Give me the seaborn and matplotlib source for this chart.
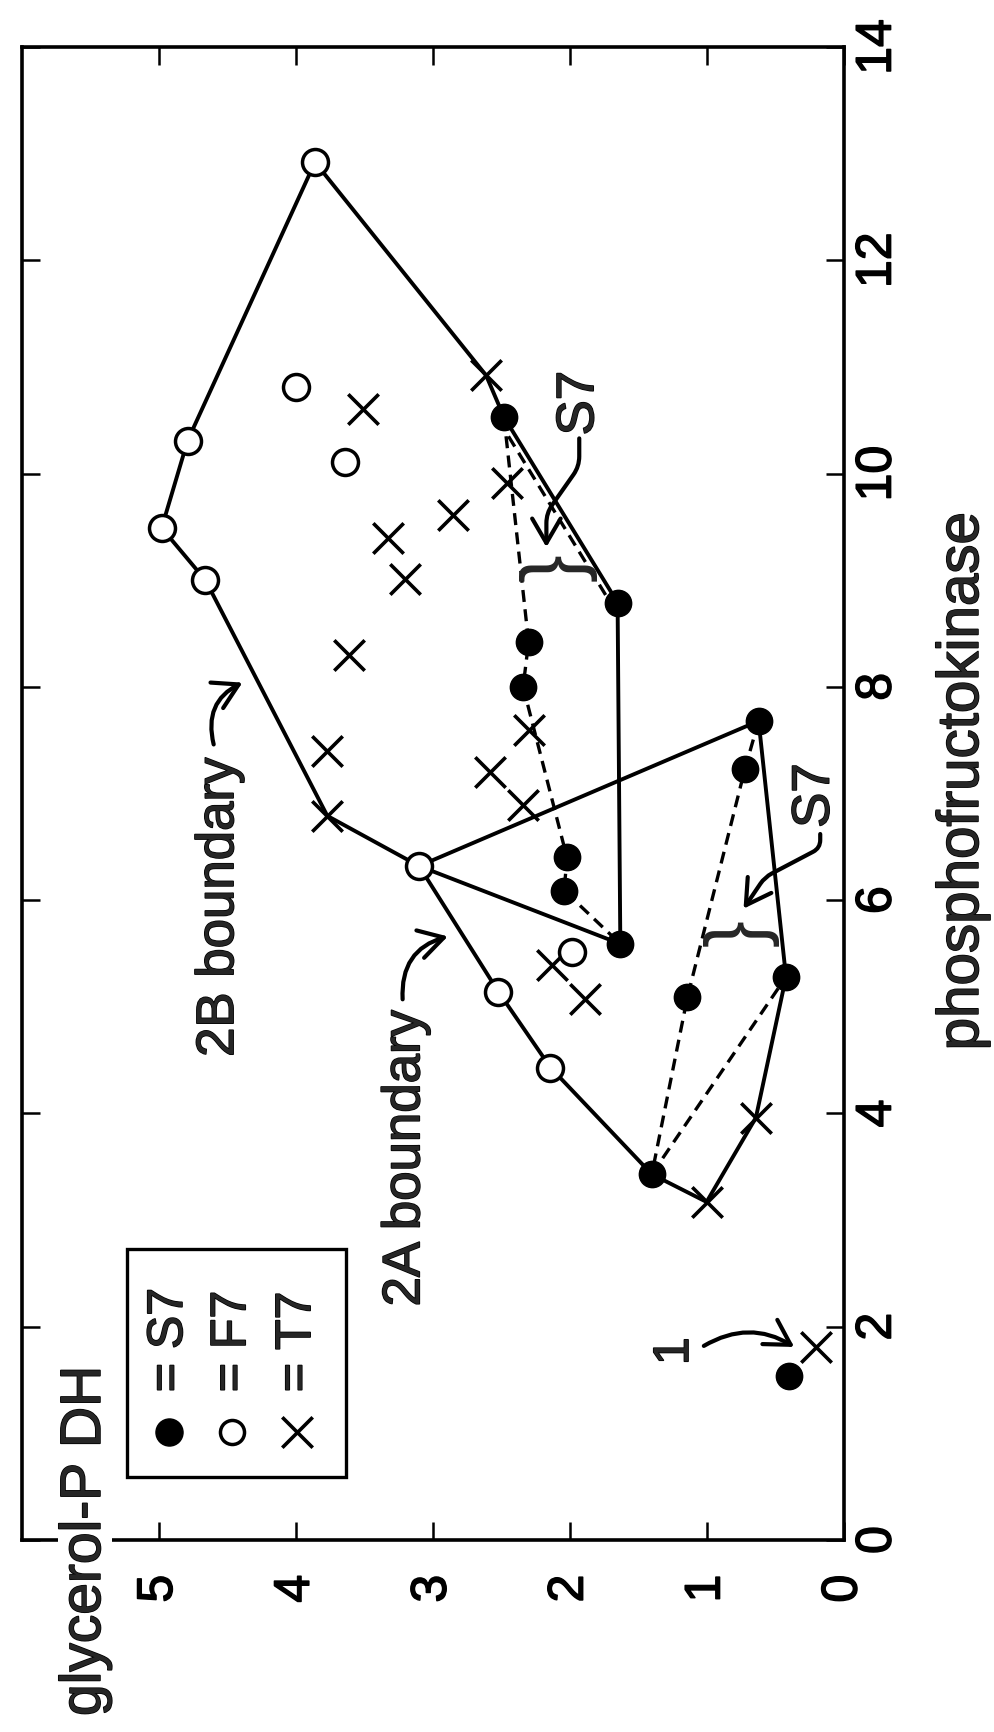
import matplotlib
matplotlib.use("Agg")
import matplotlib.pyplot as plt
import matplotlib.patheffects as pe
import numpy as np
import pandas as pd
import seaborn as sns
from matplotlib.patches import Rectangle
from matplotlib.transforms import ScaledTranslation

# Enzyme activities (glycerol-P DH vs phosphofructokinase) per fibre group
s7_gpdh = [2.48, 1.65, 2.30, 2.34, 0.62, 0.72, 2.02, 2.04, 1.63, 0.42, 1.14, 1.40, 0.40]
s7_pfk = [10.53, 8.79, 8.42, 8.00, 7.68, 7.23, 6.40, 6.09, 5.59, 5.28, 5.09, 3.43, 1.54]
f7_gpdh = [3.86, 4.98, 4.79, 4.66, 4.00, 3.64, 3.10, 1.98, 2.52, 2.14]
f7_pfk = [12.92, 9.49, 10.31, 9.00, 10.81, 10.11, 6.32, 5.51, 5.14, 4.43]
t7_gpdh = [2.61, 3.51, 2.46, 2.85, 3.33, 3.20, 3.61, 3.77, 3.77, 2.30, 2.58,
           2.34, 2.13, 1.89, 0.64, 1.00, 0.20]
t7_pfk = [10.92, 10.61, 9.91, 9.61, 9.40, 9.01, 8.30, 7.40, 6.79, 7.60, 7.20,
          6.89, 5.39, 5.07, 3.96, 3.17, 1.81]

groups = ["S7", "F7", "T7"]
gpdh_ticks = [0, 1, 2, 3, 4, 5]
pfk_ticks = [0, 2, 4, 6, 8, 10, 12, 14]

# Region outlines as (group, point index) vertex sequences
boundary_2b = [("T7", 8), ("F7", 3), ("F7", 1), ("F7", 2), ("F7", 0), ("T7", 0),
               ("S7", 0), ("S7", 1), ("S7", 8), ("F7", 6), ("T7", 8)]
boundary_2a = [("S7", 11), ("F7", 9), ("F7", 8), ("F7", 6), ("S7", 4), ("S7", 9),
               ("T7", 14), ("T7", 15), ("S7", 11)]
# S7 sub-outlines (dashed), indices into the S7 arrays
s7_dashed_2b = [[0, 2, 3, 6, 7, 8]]
s7_dashed_2b_edge = [[0, 1]]
s7_dashed_2a = [[4, 5, 10, 11], [11, 9]]

coords = {"S7": (s7_gpdh, s7_pfk), "F7": (f7_gpdh, f7_pfk), "T7": (t7_gpdh, t7_pfk)}

df = pd.concat([
    pd.DataFrame({"gpdh": coords[g][0], "pfk": coords[g][1], "group": g}) for g in groups
], ignore_index=True)

sns.set_theme(style="white")
plt.rcParams["font.family"] = ["Liberation Sans", "DejaVu Sans"]

# slightly heavier strokes on all lettering
ink = [pe.withStroke(linewidth=1.1, foreground="black")]

W, H = 994, 1733
fig = plt.figure(figsize=(W / 100, H / 100), dpi=100)
ax = fig.add_axes([22 / W, 192 / H, 821.5 / W, 1493 / H])

ax.set_xlim(6, 0)
ax.set_ylim(0, 14)


def path_xy(seq):
    xs = [coords[g][0][i] for g, i in seq]
    ys = [coords[g][1][i] for g, i in seq]
    return xs, ys


# solid region boundaries
for seq in (boundary_2b, boundary_2a):
    xs, ys = path_xy(seq)
    ax.plot(xs, ys, color="black", lw=2.8, zorder=3, solid_joinstyle="miter")

# dashed S7 sub-outlines
dash_kw = dict(color="black", lw=2.4, dashes=(3.6, 2.2), zorder=2)
for idx in s7_dashed_2b + s7_dashed_2a:
    xs, ys = path_xy([("S7", i) for i in idx])
    ax.plot(xs, ys, **dash_kw)
shift = ax.transData + ScaledTranslation(-4 / 72, -2 / 72, fig.dpi_scale_trans)
for idx in s7_dashed_2b_edge:
    xs, ys = path_xy([("S7", i) for i in idx])
    ax.plot(xs, ys, transform=shift, **dash_kw)

# points
sns.scatterplot(data=df[df.group == "T7"], x="gpdh", y="pfk", marker="x",
                color="black", s=480, linewidth=2.6, zorder=5, ax=ax, legend=False)
sns.scatterplot(data=df[df.group == "F7"], x="gpdh", y="pfk", marker="o",
                facecolor="white", edgecolor="black", s=350, linewidth=2.5,
                zorder=6, ax=ax, legend=False)
sns.scatterplot(data=df[df.group == "S7"], x="gpdh", y="pfk", marker="o",
                color="black", edgecolor="black", s=360, linewidth=1, zorder=6,
                ax=ax, legend=False)

# axes styling
for sp in ax.spines.values():
    sp.set_linewidth(2.6)
    sp.set_color("black")
ax.set_xticks(gpdh_ticks)
ax.set_yticks(pfk_ticks)
ax.set_xlabel("")
ax.set_ylabel("")
ax.tick_params(axis="x", direction="in", length=13, width=1.8, top=True, bottom=True,
               labelsize=36, pad=25, labelrotation=90, colors="black")
ax.tick_params(axis="y", direction="in", length=13, width=1.8, left=True, right=True,
               labelleft=False, labelright=True, labelsize=36, pad=8,
               labelrotation=90, colors="black")
for lbl in ax.get_yticklabels():
    lbl.set_va("center")
for lbl in ax.get_xticklabels() + ax.get_yticklabels():
    lbl.set_path_effects(ink)
ax.grid(False)

# legend box
ax.add_patch(Rectangle((0.128, 0.042), 0.267, 0.153, transform=ax.transAxes,
                       fill=False, edgecolor="black", lw=2.4, zorder=7))
leg_x = [0.179, 0.256, 0.335]
ax.scatter([leg_x[0]], [0.0723], transform=ax.transAxes, marker="o", s=380,
           color="black", zorder=8)
ax.scatter([leg_x[1]], [0.0723], transform=ax.transAxes, marker="o", s=300,
           facecolor="white", edgecolor="black", linewidth=2.5, zorder=8)
ax.scatter([leg_x[2]], [0.0723], transform=ax.transAxes, marker="x", s=480,
           color="black", linewidth=2.6, zorder=8)
for x, g in zip(leg_x, groups):
    ax.text(x, 0.099, "= " + g, transform=ax.transAxes, rotation=90,
            ha="center", va="bottom", fontsize=36, zorder=8, path_effects=ink)

# region labels and arrows
ax.text(3.20, 2.19, "2A boundary", rotation=90, ha="center", va="bottom",
        fontsize=38, path_effects=ink)
ax.text(4.56, 4.53, "2B boundary", rotation=90, ha="center", va="bottom",
        fontsize=38, path_effects=ink)

arrow_kw = dict(arrowstyle="->,head_length=0.55,head_width=0.32", lw=3.0,
                color="black", shrinkA=0, shrinkB=0, mutation_scale=32)
ax.annotate("", xy=(2.89, 5.66), xytext=(3.22, 5.07),
            arrowprops=dict(connectionstyle="arc3,rad=-0.4", **arrow_kw))
ax.annotate("", xy=(4.39, 8.04), xytext=(4.60, 7.46),
            arrowprops=dict(connectionstyle="arc3,rad=-0.4", **arrow_kw))

# Type 1 point marker
ax.text(1.23, 1.77, "1", rotation=90, ha="center", va="center", fontsize=36,
        path_effects=ink)
ax.annotate("", xy=(0.36, 1.81), xytext=(1.02, 1.82),
            arrowprops=dict(connectionstyle="arc3,rad=-0.3", **arrow_kw))

# S7 spreads with braces
ax.text(1.93, 10.66, "S7", rotation=90, ha="center", va="center", fontsize=38,
        path_effects=ink)
ax.annotate("", xy=(2.17, 9.31), xytext=(1.93, 10.33),
            arrowprops=dict(connectionstyle="arc,angleA=-90,armA=28,angleB=90,armB=34,rad=10",
                            **arrow_kw))
ax.text(2.09, 9.13, "}", rotation=90, ha="center", va="center", fontsize=60)

ax.text(0.21, 6.98, "S7", rotation=90, ha="center", va="center", fontsize=38,
        path_effects=ink)
ax.annotate("", xy=(0.73, 5.92), xytext=(0.17, 6.62),
            arrowprops=dict(connectionstyle="arc,angleA=-90,armA=14,angleB=56,armB=38,rad=8",
                            **arrow_kw))
ax.text(0.75, 5.71, "}", rotation=90, ha="center", va="center", fontsize=58)

# axis titles
fig.text(963 / W, 1 - 782 / H, "phosphofructokinase", rotation=90,
         ha="center", va="center", fontsize=42, path_effects=ink)
fig.text(85 / W, (H - 1717) / H, "glycerol-P DH", rotation=90, ha="center",
         va="bottom", fontsize=41, path_effects=ink,
         bbox=dict(facecolor="white", edgecolor="none", pad=0), zorder=10)

fig.savefig("out.png", dpi=100, facecolor="white")
